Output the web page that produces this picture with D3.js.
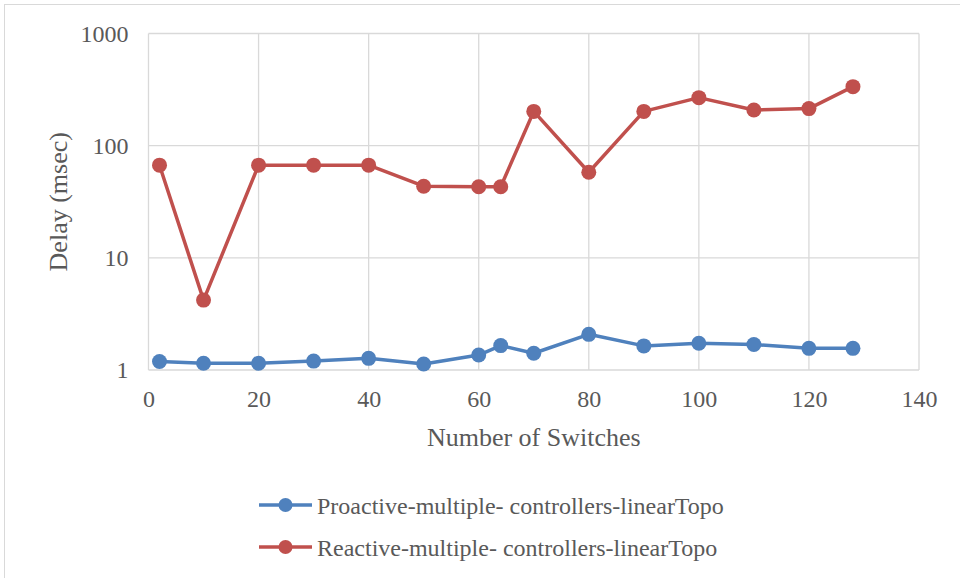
<!DOCTYPE html>
<html>
<head>
<meta charset="utf-8">
<script src="https://cdn.jsdelivr.net/npm/d3@7"></script>
<style>
  html, body { margin: 0; padding: 0; background: #fff; }
  svg { display: block; }
</style>
</head>
<body>
<svg id="chart" width="960" height="578"></svg>
<script>
// Number of switches in the linear topology
const switches = [2, 10, 20, 30, 40, 50, 60, 64, 70, 80, 90, 100, 110, 120, 128];

// Average delay (msec) per configuration
const proactiveDelay = [1.19, 1.15, 1.15, 1.20, 1.27, 1.13, 1.36, 1.65, 1.41, 2.08, 1.64, 1.73, 1.69, 1.56, 1.56];
const reactiveDelay  = [67, 4.2, 67, 67, 67, 43.5, 43, 43, 202, 58, 202, 268, 208, 214, 336];

const seriesNames = [
  "Proactive-multiple- controllers-linearTopo",
  "Reactive-multiple- controllers-linearTopo"
];
const seriesColors = ["#4F81BD", "#C0504D"];

const xTicks = [0, 20, 40, 60, 80, 100, 120, 140];
const yTicks = [1, 10, 100, 1000];

const svg = d3.select("#chart");
const font = "Liberation Serif";
const textColor = "#595959";

// outer chart border
svg.append("rect")
  .attr("x", 4.5).attr("y", 4.5)
  .attr("width", 970).attr("height", 590)
  .attr("fill", "none").attr("stroke", "#d9d9d9").attr("stroke-width", 1);

const plot = { left: 148.5, right: 919, top: 33.5, bottom: 370 };

const x = d3.scaleLinear().domain([0, 140]).range([plot.left, plot.right]);
const y = d3.scaleLog().domain([1, 1000]).range([plot.bottom, plot.top]);

// gridlines
const grid = svg.append("g");
grid.selectAll("line.v").data(xTicks).enter().append("line")
  .attr("x1", d => x(d)).attr("x2", d => x(d))
  .attr("y1", plot.top).attr("y2", plot.bottom)
  .attr("stroke", "#d9d9d9").attr("stroke-width", 1.3);
grid.selectAll("line.h").data(yTicks).enter().append("line")
  .attr("x1", plot.left).attr("x2", plot.right)
  .attr("y1", d => y(d)).attr("y2", d => y(d))
  .attr("stroke", "#d9d9d9").attr("stroke-width", 1.3);

// axes: tick labels only
const xAxis = d3.axisBottom(x).tickValues(xTicks).tickSize(0).tickPadding(20).tickFormat(d3.format("d"));
const yAxis = d3.axisLeft(y).tickValues(yTicks).tickSize(0).tickPadding(20).tickFormat(d3.format("d"));

const gx = svg.append("g").attr("transform", `translate(0,${plot.bottom})`).call(xAxis);
const gy = svg.append("g").attr("transform", `translate(${plot.left},0)`).call(yAxis);
[gx, gy].forEach(g => {
  g.attr("font-family", font).attr("font-size", 24);
  g.select(".domain").remove();
  g.selectAll("text")
    .attr("fill", textColor)
    .attr("font-family", font)
    .attr("font-size", 24);
});

// axis titles
svg.append("text")
  .attr("x", x(70)).attr("y", 446)
  .attr("text-anchor", "middle")
  .attr("fill", textColor)
  .attr("font-family", font).attr("font-size", 26)
  .text("Number of Switches");

svg.append("text")
  .attr("transform", `translate(67,${(plot.top + plot.bottom) / 2}) rotate(-90)`)
  .attr("text-anchor", "middle")
  .attr("fill", textColor)
  .attr("font-family", font).attr("font-size", 26)
  .text("Delay (msec)");

// series lines and markers
const series = [proactiveDelay, reactiveDelay];
const line = d3.line().x(d => x(d[0])).y(d => y(d[1]));

series.forEach((vals, i) => {
  const pts = switches.map((s, j) => [s, vals[j]]);
  const g = svg.append("g");
  g.append("path")
    .attr("d", line(pts))
    .attr("fill", "none")
    .attr("stroke", seriesColors[i])
    .attr("stroke-width", 3.5)
    .attr("stroke-linejoin", "round");
  g.selectAll("circle").data(pts).enter().append("circle")
    .attr("cx", d => x(d[0])).attr("cy", d => y(d[1]))
    .attr("r", 7.5)
    .attr("fill", seriesColors[i]);
});

// legend
const legendY = [505, 547];
seriesNames.forEach((name, i) => {
  const g = svg.append("g").attr("transform", `translate(0,${legendY[i]})`);
  g.append("line")
    .attr("x1", 259).attr("x2", 312).attr("y1", 0).attr("y2", 0)
    .attr("stroke", seriesColors[i]).attr("stroke-width", 3.5);
  g.append("circle").attr("cx", 285.5).attr("cy", 0).attr("r", 7).attr("fill", seriesColors[i]);
  g.append("text")
    .attr("x", 317).attr("y", 9)
    .attr("fill", textColor)
    .attr("font-family", font).attr("font-size", 24)
    .text(name);
});
</script>
</body>
</html>
